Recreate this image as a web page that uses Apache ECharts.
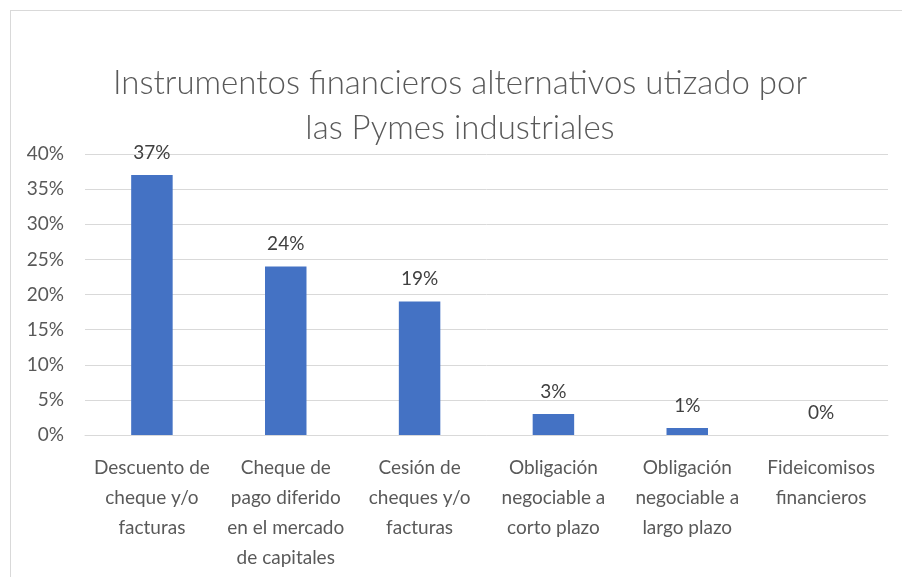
<!DOCTYPE html>
<html>
<head>
<meta charset="utf-8">
<script src="https://cdn.jsdelivr.net/npm/echarts@6/dist/echarts.min.js"></script>
<style>
  html, body { margin: 0; padding: 0; background: #fff; }
  #frame { position: absolute; left: 10px; top: 10px; width: 1000px; height: 700px; border: 1px solid #d9d9d9; box-sizing: border-box; }
  #main { position: absolute; left: 0; top: 0; width: 902px; height: 577px; }
</style>
</head>
<body>
<div id="frame"></div>
<div id="main"></div>
<script>
  // categorias (eje x)
  var categories = [
    'Descuento de\ncheque y/o\nfacturas',
    'Cheque de\npago diferido\nen el mercado\nde capitales',
    'Cesión de\ncheques y/o\nfacturas',
    'Obligación\nnegociable a\ncorto plazo',
    'Obligación\nnegociable a\nlargo plazo',
    'Fideicomisos\nfinancieros'
  ]
  // porcentajes
  var values = [37, 24, 19, 3, 1, 0]
  var yTicks = [0, 5, 10, 15, 20, 25, 30, 35, 40]

  var textColor = '#595959'
  var fontFam = 'Lato, "Open Sans", sans-serif'

  var myChart = echarts.init(document.getElementById('main'))
  var option = {
    animation: false,
    title: {
      text: 'Instrumentos financieros alternativos utizado por\nlas Pymes industriales',
      left: 455,
      textAlign: 'center',
      top: 56,
      textStyle: {
        color: textColor,
        fontFamily: fontFam,
        fontWeight: 300,
        fontSize: 33,
        lineHeight: 45
      }
    },
    grid: {
      left: 85,
      right: 14,
      top: 154,
      bottom: 142,
      containLabel: false
    },
    xAxis: {
      type: 'category',
      data: categories,
      axisLine: { show: true, lineStyle: { color: '#d9d9d9', width: 1 } },
      axisTick: { show: false },
      axisLabel: {
        color: textColor,
        fontFamily: fontFam,
        fontSize: 19,
        lineHeight: 30,
        margin: 18,
        interval: 0
      }
    },
    yAxis: {
      type: 'value',
      min: yTicks[0],
      max: yTicks[yTicks.length - 1],
      interval: 5,
      axisLine: { show: false },
      axisTick: { show: false },
      splitLine: { lineStyle: { color: '#d9d9d9', width: 1 } },
      axisLabel: {
        color: textColor,
        fontFamily: fontFam,
        fontSize: 19,
        margin: 21,
        formatter: function (v) {
          return v + '%'
        }
      }
    },
    series: [
      {
        type: 'bar',
        data: values,
        barWidth: '31%',
        itemStyle: { color: '#4472C4' },
        label: {
          show: true,
          position: 'top',
          distance: 13,
          color: '#404040',
          fontFamily: fontFam,
          fontSize: 19,
          formatter: function (p) {
            return p.value + '%'
          }
        }
      }
    ]
  }
  option && myChart.setOption(option, true)
</script>
</body>
</html>
